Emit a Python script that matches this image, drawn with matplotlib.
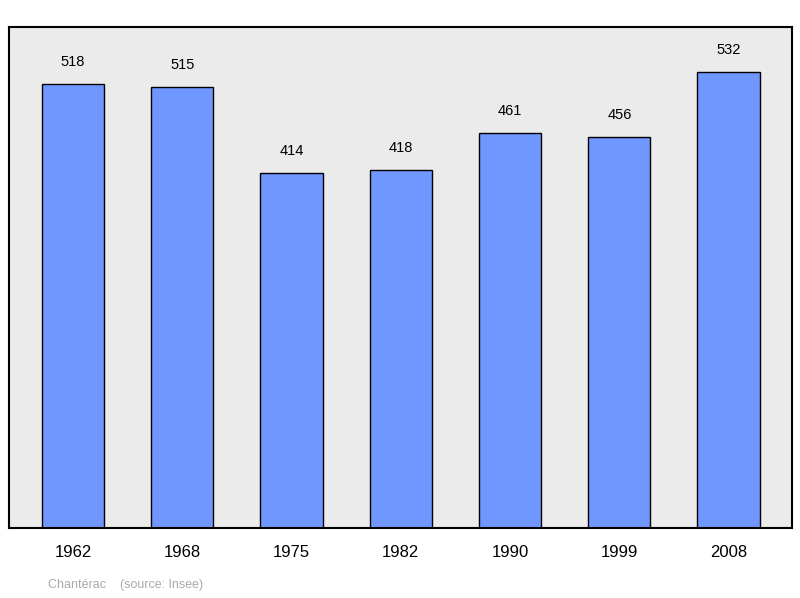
import matplotlib
matplotlib.use("Agg")
import matplotlib.pyplot as plt

years = ["1962", "1968", "1975", "1982", "1990", "1999", "2008"]
population = [518, 515, 414, 418, 461, 456, 532]

plt.rcParams["font.family"] = ["Liberation Sans", "DejaVu Sans"]

fig = plt.figure(figsize=(8, 5.98), dpi=100)
ax = fig.add_axes([9 / 800, 1 - 528 / 598, 783 / 800, 501 / 598])
ax.set_facecolor("#ebebeb")

x = range(len(years))
ax.bar(x, population, width=0.57, color="#7097ff", edgecolor="black", linewidth=1, zorder=2)
for xi, v in zip(x, population):
    ax.annotate(str(v), (xi, v), xytext=(0, 11), textcoords="offset points",
                ha="center", va="bottom", fontsize=10.5)

ax.set_xlim(-0.585, 6.58)
ax.set_ylim(0, 585)
ax.set_xticks(list(x))
ax.set_xticklabels(years, fontsize=12)
ax.tick_params(axis="x", length=0, pad=12)
ax.set_yticks([])
for s in ax.spines.values():
    s.set_linewidth(1.5)

fig.text(48 / 800, 1 - 585 / 598, "Chantérac    (source: Insee)", color="#aaaaaa",
         fontsize=9, va="center")

fig.savefig("out.png", dpi=100)
